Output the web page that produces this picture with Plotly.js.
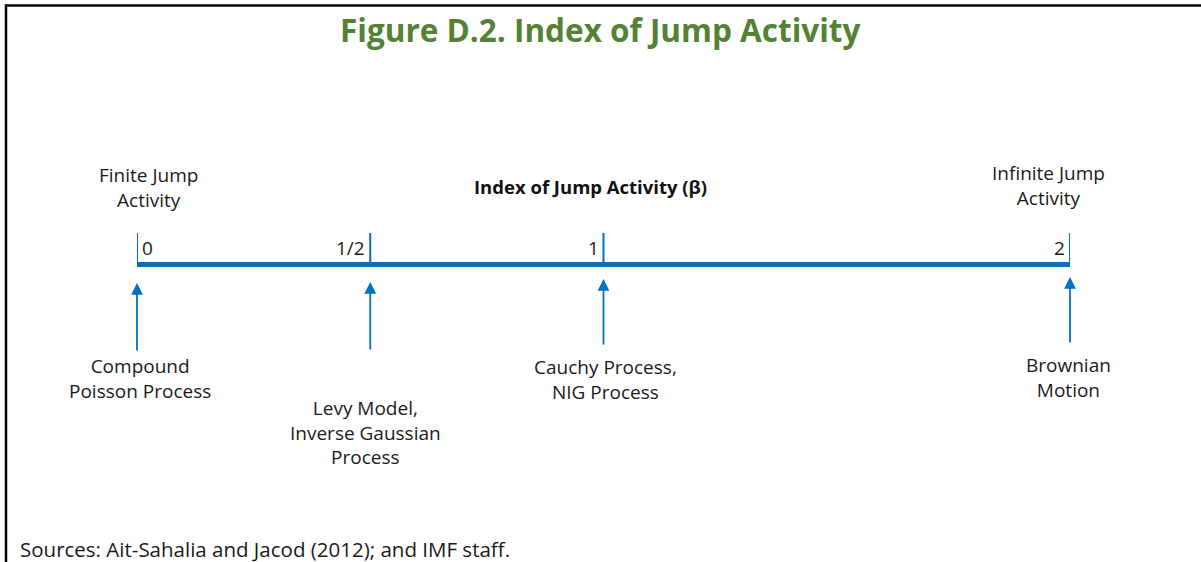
<!DOCTYPE html>
<html>
<head>
<meta charset="utf-8">
<script src="https://cdn.plot.ly/plotly-3.0.1.min.js"></script>
<style>html,body{margin:0;padding:0;background:#fff;}#chart{width:1201px;height:562px;}</style>
</head>
<body>
<div id="chart"></div>
<script>
// ---- data ----
const betaValues = [0, 0.5, 1, 2];
const tickLabels = ['0', '1/2', '1', '2'];
const processLabels = [
  'Compound<br>Poisson Process',
  'Levy Model,<br>Inverse Gaussian<br>Process',
  'Cauchy Process,<br>NIG Process',
  'Brownian<br>Motion'
];
const endBetas = [0, 2];
const endLabels = ['Finite Jump<br>Activity', 'Infinite Jump<br>Activity'];
const axisTitle = 'Index of Jump Activity (β)';
const chartTitle = 'Figure D.2. Index of Jump Activity';
const sourceNote = 'Sources: Ait-Sahalia and Jacod (2012); and IMF staff.';

// ---- styles / layout positions (pixels on y axis) ----
const BLUE = '#0070C0';
const FONT = 'Open Sans, Noto Sans, sans-serif';
const W = 1201, H = 562, ML = 137, MR = 131;
const plotW = W - ML - MR;
const lineY = 264.5, tickTop = 233;
const arrowTip = [283, 282, 279, 277];
const arrowTail = [352, 351, 346, 344];
const labelTop = [366, 408, 367, 365];
const labelDx = [3, -5, 2, -2];
const lineGap = 24.5;
const px2paper = px => (px - ML) / plotW;
const nLines = s => s.split('<br>').length;

const shapes = [];
// main axis line
shapes.push({type:'line', xref:'x', yref:'y', x0:betaValues[0], x1:betaValues[betaValues.length-1], y0:lineY, y1:lineY,
  line:{color:BLUE, width:5}});
// ticks
betaValues.forEach(b => {
  shapes.push({type:'line', xref:'x', yref:'y', x0:b, x1:b, y0:tickTop, y1:lineY+2, line:{color:BLUE, width:2}});
});
// frame
shapes.push({type:'line', xref:'paper', yref:'y', x0:px2paper(5), x1:px2paper(1201), y0:5.5, y1:5.5, line:{color:'#000', width:2.5}});
shapes.push({type:'line', xref:'paper', yref:'y', x0:px2paper(6), x1:px2paper(6), y0:4.5, y1:562, line:{color:'#000', width:2.5}});

const ann = [];
const txtFont = {family: FONT, size: 19, color: '#1a1a1a'};
// tick labels
betaValues.forEach((b, i) => {
  const leftSide = i > 0;
  ann.push({x:b, y:248, xref:'x', yref:'y', text:tickLabels[i], showarrow:false,
    xanchor: leftSide ? 'right' : 'left', yanchor:'middle', xshift: leftSide ? -3 : 3,
    font: txtFont});
});
// arrows + process labels
betaValues.forEach((b, i) => {
  ann.push({x:b, y:arrowTip[i], xref:'x', yref:'y', axref:'x', ayref:'y', ax:b, ay:arrowTail[i],
    text:'', showarrow:true, arrowhead:2, arrowsize:1.3, arrowwidth:1.8, arrowcolor:BLUE, standoff:0, startstandoff:0});
  const n = nLines(processLabels[i]);
  ann.push({x:b, y:labelTop[i] + (n-1)*lineGap/2, xref:'x', yref:'y', text:processLabels[i], showarrow:false,
    xanchor:'center', yanchor:'middle', align:'center', xshift:labelDx[i], font: txtFont});
});
// end labels
const endDx = [11, -22], endTop = [175, 173];
endBetas.forEach((b, i) => {
  const n = nLines(endLabels[i]);
  ann.push({x:b, y:endTop[i] + (n-1)*lineGap/2, xref:'x', yref:'y', text:endLabels[i], showarrow:false,
    xanchor:'center', yanchor:'middle', align:'center', xshift:endDx[i], font: txtFont});
});
// axis title
ann.push({x:px2paper(590), y:186, xref:'paper', yref:'y', text:'<b>'+axisTitle+'</b>', showarrow:false,
  xanchor:'center', yanchor:'middle', font:{family:FONT, size:18.5, color:'#111'}});
// chart title
ann.push({x:px2paper(600), y:29, xref:'paper', yref:'y', text:'<b>'+chartTitle+'</b>', showarrow:false,
  xanchor:'center', yanchor:'middle', font:{family:FONT, size:31.5, color:'#548235'}});
// source
ann.push({x:px2paper(18), y:549, xref:'paper', yref:'y', text:sourceNote, showarrow:false,
  xanchor:'left', yanchor:'middle', font:{family:FONT, size:20.5, color:'#1a1a1a'}});

const layout = {
  width: W, height: H,
  margin: {l: ML, r: MR, t: 0, b: 0, pad: 0},
  paper_bgcolor: '#fff', plot_bgcolor: '#fff',
  showlegend: false,
  xaxis: {range: [betaValues[0], betaValues[betaValues.length-1]], visible: false, fixedrange: true},
  yaxis: {range: [H, 0], visible: false, fixedrange: true},
  shapes: shapes,
  annotations: ann
};

Plotly.newPlot('chart', [{x: betaValues, y: betaValues.map(() => lineY), type: 'scatter', mode: 'none', hoverinfo: 'skip'}], layout, {staticPlot: true, displayModeBar: false});
</script>
</body>
</html>
